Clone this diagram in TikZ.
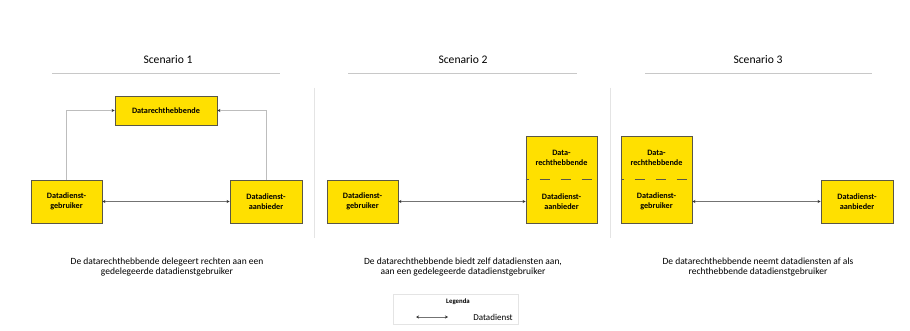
\documentclass[tikz,border=0pt]{standalone}
\usepackage{fontspec}
\setmainfont{Carlito}
\usetikzlibrary{arrows.meta}
\definecolor{boxfill}{HTML}{FFE000}
\definecolor{boxline}{HTML}{5A5746}
\definecolor{connline}{HTML}{BDBDBD}
\definecolor{sepline}{HTML}{E4E4E4}
\definecolor{titleline}{HTML}{C8C8C8}
\tikzset{
  box/.style={draw=boxline, line width=0.9pt, fill=boxfill, inner sep=0pt, align=center,
    font=\fontsize{8.2}{10}\selectfont\bfseries},
  boxtxt/.style={inner sep=0pt, align=center, font=\fontsize{8.2}{10}\selectfont\bfseries},
  conn/.style={draw=connline, line width=0.9pt, -{Stealth[length=3pt,width=3pt,fill=black!80,color=black!80]}},
  svc/.style={draw=black!55, line width=0.6pt, {Stealth[length=3pt,width=3pt,fill=black!80,color=black!80]}-{Stealth[length=3pt,width=3pt,fill=black!80,color=black!80]}},
  title/.style={font=\fontsize{11.6}{13}\selectfont, inner sep=0pt},
  caption/.style={font=\fontsize{9.5}{10.8}\selectfont, align=center, inner sep=0pt},
  tline/.style={draw=titleline, line width=0.9pt},
  sep/.style={draw=sepline, line width=0.9pt},
  divider/.style={draw=boxline, line width=1.3pt, dash pattern=on 10pt off 11pt, dash phase=7pt}
}
\begin{document}
\begin{tikzpicture}[x=1pt,y=-1pt]
\useasboundingbox[fill=white] (0,0) rectangle (910,331);

% titles
\node[title] (t1) at (168,60) {Scenario 1};
\node[title] (t2) at (463,60) {Scenario 2};
\node[title] (t3) at (758,60) {Scenario 3};
\coordinate (t1a) at (52,73); \coordinate (t1b) at (280,73);
\coordinate (t2a) at (348,73); \coordinate (t2b) at (577,73);
\coordinate (t3a) at (645,73); \coordinate (t3b) at (872,73);
\draw[tline] (t1a) -- (t1b);
\draw[tline] (t2a) -- (t2b);
\draw[tline] (t3a) -- (t3b);

% separators
\coordinate (s1a) at (314,88); \coordinate (s1b) at (314,238);
\coordinate (s2a) at (610,88); \coordinate (s2b) at (610,238);
\draw[sep] (s1a) -- (s1b);
\draw[sep] (s2a) -- (s2b);

% Scenario 1
\node[box, minimum width=102pt, minimum height=29pt] (r1) at (166,110.5) {Datarechthebbende};
\node[box, minimum width=71pt, minimum height=43pt] (g1) at (66.5,201.5) {Datadienst-\\gebruiker};
\node[box, minimum width=72pt, minimum height=43pt] (a1) at (266,201.5) {Datadienst-\\aanbieder};
\draw[conn] (g1.north) |- (r1.west);
\draw[conn] (a1.north) |- (r1.east);
\draw[svc] (g1.east) -- (a1.west);

% Scenario 2
\node[box, minimum width=71pt, minimum height=87pt] (ra2) at (561.5,179.5) {};
\node[box, minimum width=71pt, minimum height=43pt] (g2) at (362.5,201.5) {Datadienst-\\gebruiker};
\node[boxtxt] (r2t) at (561.5,158) {Data-\\rechthebbende};
\node[boxtxt] (a2t) at (561.5,201.5) {Datadienst-\\aanbieder};
\draw[divider] (ra2.west) -- (ra2.east);
\draw[svc] (g2.east) -- (ra2.west |- g2.east);

% Scenario 3
\node[box, minimum width=71pt, minimum height=87pt] (rg3) at (656.5,179.5) {};
\node[boxtxt] (r3t) at (656.5,158) {Data-\\rechthebbende};
\node[boxtxt] (g3t) at (656.5,201.5) {Datadienst-\\gebruiker};
\node[box, minimum width=72pt, minimum height=43pt] (a3) at (857,201.5) {Datadienst-\\aanbieder};
\draw[divider] (rg3.west) -- (rg3.east);
\draw[svc] (rg3.east |- a3.west) -- (a3.west);

% captions
\node[caption] (c1) at (167,267) {De datarechthebbende delegeert rechten aan een\\gedelegeerde datadienstgebruiker};
\node[caption] (c2) at (463,267) {De datarechthebbende biedt zelf datadiensten aan,\\aan een gedelegeerde datadienstgebruiker};
\node[caption] (c3) at (758,267) {De datarechthebbende neemt datadiensten af als\\rechthebbende datadienstgebruiker};

% legend
\node[draw=sepline, line width=0.9pt, minimum width=125pt, minimum height=30pt, inner sep=0pt] (leg) at (455.5,309.5) {};
\node[font=\fontsize{6.8}{8}\selectfont\bfseries, inner sep=0pt] (legt) at (458,302) {Legenda};
\coordinate (la) at (416,317); \coordinate (lb) at (448,317);
\draw[svc] (la) -- (lb);
\node[font=\fontsize{9}{10}\selectfont, inner sep=0pt] (legd) at (493,317) {Datadienst};
\end{tikzpicture}
\end{document}
